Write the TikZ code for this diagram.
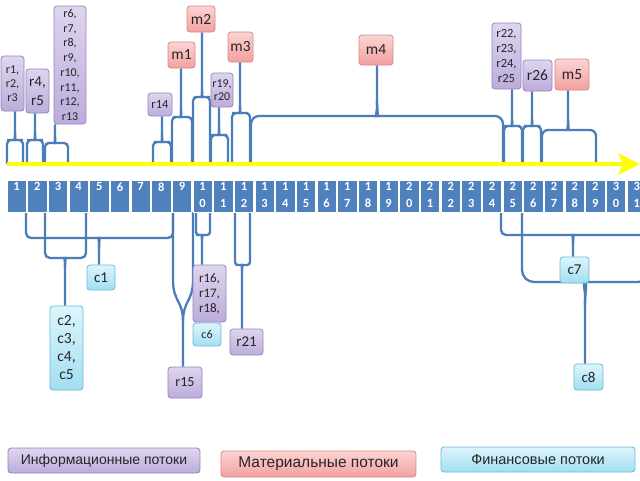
\documentclass[tikz,border=0pt]{standalone}
\usepackage{fontspec}
\setmainfont{Carlito}
\newfontfamily\legfont{Liberation Sans}
\pgfdeclarelayer{background}
\pgfsetlayers{background,main}
\definecolor{numblue}{HTML}{4F81BD}
\definecolor{connc}{HTML}{4A7EBB}
\definecolor{yel}{HTML}{FFFF00}
\definecolor{purt}{HTML}{DED5EE}
\definecolor{purbot}{HTML}{BCACDB}
\definecolor{purb}{HTML}{9583C0}
\definecolor{redt}{HTML}{FCD3D3}
\definecolor{redbot}{HTML}{F2A0A0}
\definecolor{redb}{HTML}{D98686}
\definecolor{cyat}{HTML}{DDF5FC}
\definecolor{cyabot}{HTML}{A2DEF1}
\definecolor{cyab}{HTML}{68BDD8}
\definecolor{txt}{HTML}{262626}
\newcommand\fs[2]{\fontsize{#1}{#2}\selectfont}
% #1 left leg x, #2 right leg x, #3 base y, #4 bar y, #5 stem x, #6 curve size, #7 sign, #8 target anchor
\newcommand\flowbrace[8]{%
  \coordinate (tmp) at (#5,#4);
  \draw[conn,rounded corners=#6pt] (#1,#3) -- (#1,#4) -- ({#5-#6},#4)
     .. controls ({#5-0.2*#6},#4) and (#5,{#4-0.8*#6*#7}) .. (#5,{#4-2*#6*#7}) -- (tmp |- #8);
  \draw[conn,rounded corners=#6pt] (#2,#3) -- (#2,#4) -- ({#5+#6},#4)
     .. controls ({#5+0.2*#6},#4) and (#5,{#4-0.8*#6*#7}) .. (#5,{#4-2*#6*#7});
}
\begin{document}
\begin{tikzpicture}[x=1pt,y=-1pt,
  conn/.style={draw=connc,line width=2.3pt},
  lab/.style={rounded corners=3pt,line width=0.8pt,inner sep=0.5pt,align=center,text=txt},
  pur/.style={lab,draw=purb,top color=purt,bottom color=purbot},
  red/.style={lab,draw=redb,top color=redt,bottom color=redbot},
  cya/.style={lab,draw=cyab,top color=cyat,bottom color=cyabot},
  numbox/.style={draw=white,line width=0.8pt,fill=numblue,minimum width=19.4pt,minimum height=32pt,inner sep=0pt,anchor=north west},
  numtxt/.style={anchor=north,inner sep=0pt,yshift=-3pt,text=white,align=center,font=\bfseries\fs{12.5}{16.5}},
  leg/.style={rounded corners=3pt,line width=0.8pt,inner sep=0pt,text=txt,minimum height=25pt}
]
\useasboundingbox (0,0) rectangle (640,480);
\clip (0,0) rectangle (640,480);

% number boxes
\foreach \i/\t in {1/1,2/2,3/3,4/4,5/5,6/6,7/7,8/8,9/9,10/{1\\0},11/{1\\1},12/{1\\2},13/{1\\3},14/{1\\4},15/{1\\5},16/{1\\6},17/{1\\7},18/{1\\8},19/{1\\9},20/{2\\0},21/{2\\1},22/{2\\2},23/{2\\3},24/{2\\4},25/{2\\5},26/{2\\6},27/{2\\7},28/{2\\8},29/{2\\9},30/{3\\0},31/{3\\1}}{
  \node[numbox,label={[numtxt]north:{\t}}] (n\i) at ({6.5+(\i-1)*20.67},179.5) {};
}

% top labels
\node[pur,minimum width=23pt,minimum height=55pt,font=\fs{12}{14}] (r1) at (12.5,83.5) {r1,\\r2,\\r3};
\node[pur,minimum width=23pt,minimum height=44pt,font=\fs{15}{19}] (r4) at (37.5,91) {r4,\\r5};
\node[pur,minimum width=32pt,minimum height=118pt,font=\fs{12}{14.7}] (r6) at (70,65) {r6,\\r7,\\r8,\\r9,\\r10,\\r11,\\r12,\\r13};
\node[pur,minimum width=24pt,minimum height=23pt,font=\fs{12.5}{14}] (r14) at (160,104.5) {r14};
\node[red,minimum width=27pt,minimum height=26pt,font=\fs{15.5}{17}] (m1) at (181.5,55) {m1};
\node[red,minimum width=28pt,minimum height=26pt,font=\fs{15.5}{17}] (m2) at (201,19) {m2};
\node[pur,minimum width=22pt,minimum height=34pt,font=\fs{12}{13.5}] (r19) at (222,90) {r19,\\r20};
\node[red,minimum width=25pt,minimum height=30pt,font=\fs{15.5}{17}] (m3) at (240.5,47) {m3};
\node[red,minimum width=34pt,minimum height=30pt,font=\fs{15.5}{17}] (m4) at (376,50) {m4};
\node[pur,minimum width=29pt,minimum height=66pt,font=\fs{12.5}{15}] (r22) at (506.5,56) {r22,\\r23,\\r24,\\r25};
\node[pur,minimum width=29pt,minimum height=31pt,font=\fs{15.5}{17}] (r26) at (537.5,75.5) {r26};
\node[red,minimum width=34pt,minimum height=31pt,font=\fs{15.5}{17}] (m5) at (572,74.5) {m5};

% bottom labels
\node[cya,minimum width=28pt,minimum height=25pt,font=\fs{15}{17}] (c1) at (101,277.5) {c1};
\node[cya,minimum width=33pt,minimum height=84pt,font=\fs{15.5}{18}] (c2) at (66.5,348) {c2,\\c3,\\c4,\\c5};
\node[pur,minimum width=33pt,minimum height=57pt,font=\fs{13}{15}] (r16) at (209.5,293.5) {r16,\\r17,\\r18,};
\node[cya,minimum width=28pt,minimum height=23pt,font=\fs{12}{14}] (c6) at (207,334.5) {c6};
\node[pur,minimum width=33pt,minimum height=26pt,font=\fs{15}{17}] (r21) at (246.5,342) {r21};
\node[pur,minimum width=34pt,minimum height=31pt,font=\fs{14}{16}] (r15) at (185,382.5) {r15};
\node[cya,minimum width=29pt,minimum height=26pt,font=\fs{15}{17}] (c7) at (574.5,270) {c7};
\node[cya,minimum width=29pt,minimum height=26pt,font=\fs{15}{17}] (c8) at (588.5,377) {c8};

% legend
\node[leg,draw=purb,top color=purt,bottom color=purbot,minimum width=192pt,font=\legfont\fs{14}{15}] (li) at (104,460.5) {Информационные потоки};
\node[leg,draw=redb,top color=redt,bottom color=redbot,minimum width=195pt,minimum height=26pt,font=\legfont\fs{15.5}{16}] (lm) at (318.5,464) {Материальные потоки};
\node[leg,draw=cyab,top color=cyat,bottom color=cyabot,minimum width=194pt,font=\legfont\fs{14.5}{15}] (lf) at (538,459.5) {Финансовые потоки};

\begin{pgfonlayer}{background}
\fill[white] (0,0) rectangle (640,480);
% top braces
\flowbrace{7}{23}{164}{140}{15}{4}{1}{r1.south}
\flowbrace{27}{43}{164}{140}{35}{4}{1}{r4.south}
\flowbrace{45}{68}{164}{143}{55}{4}{1}{r6.south}
\flowbrace{153}{171}{164}{142}{162}{4}{1}{r14.south}
\flowbrace{172}{192}{164}{117}{181}{4}{1}{m1.south}
\flowbrace{193}{210}{164}{97}{202}{4}{1}{m2.south}
\flowbrace{211}{228}{164}{135}{219}{4}{1}{r19.south}
\flowbrace{232}{250}{164}{113}{240}{4}{1}{m3.south}
\flowbrace{251}{503}{164}{116}{377}{8}{1}{m4.south}
\flowbrace{504}{522}{164}{126}{512}{4}{1}{r22.south}
\flowbrace{523}{541}{164}{126}{532}{4}{1}{r26.south}
\flowbrace{542}{596}{164}{130}{568}{6}{1}{m5.south}
% bottom braces
\flowbrace{26}{173}{212}{238}{99}{5}{(-1)}{c1.north}
\flowbrace{45}{86}{212}{258}{65}{5}{(-1)}{c2.north}
\flowbrace{196}{210}{212}{235}{202}{3}{(-1)}{r16.north}
\flowbrace{235}{250}{212}{265}{242}{3}{(-1)}{r21.north}
\flowbrace{501}{645}{212}{235}{573}{5}{(-1)}{c7.north}
\flowbrace{522}{650}{212}{282}{585}{12}{(-1)}{c8.north}
\coordinate (r15s) at (183,322);
\draw[conn] (173,212) -- (173,280) .. controls (173,302) and (183,300) .. (r15s) -- (r15s |- r15.north);
\draw[conn] (193,212) -- (193,280) .. controls (193,302) and (183,300) .. (r15s);
\end{pgfonlayer}

% yellow time axis
\draw[yel,line width=4pt] (7,164) -- (624,164);
\fill[yel] (618,153) -- (640,164) -- (618,175) -- (623,164) -- cycle;
\end{tikzpicture}
\end{document}
